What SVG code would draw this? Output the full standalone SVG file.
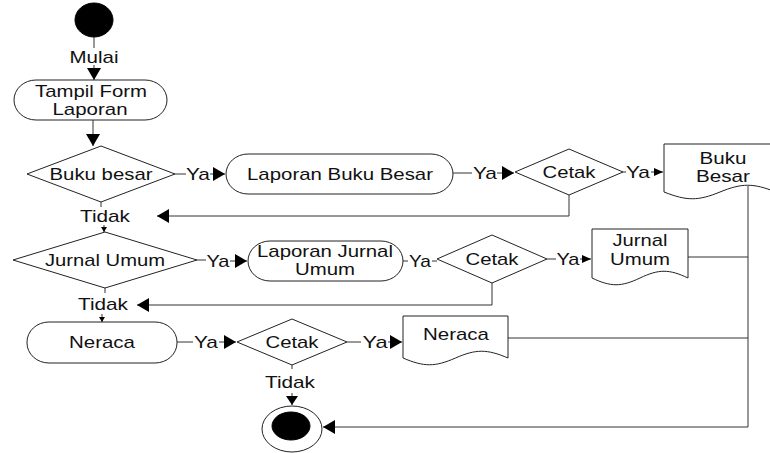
<svg xmlns="http://www.w3.org/2000/svg" width="770" height="453" viewBox="0 0 770 453">
<style>
text{font-family:"Liberation Sans",Arial,sans-serif;font-size:17px;fill:#111;text-anchor:middle}
.n{fill:#fff;stroke:#222;stroke-width:1}
.c path{fill:none;stroke:#333;stroke-width:1}
.solid{fill:#000;stroke:#000}
</style>
<defs>
<marker id="a" markerUnits="userSpaceOnUse" markerWidth="13" markerHeight="14" refX="12" refY="7" orient="auto"><path d="M0,0 L12,7 L0,14 z" fill="#000"/></marker>
<marker id="m" markerUnits="userSpaceOnUse" markerWidth="10" markerHeight="12" refX="9" refY="6" orient="auto"><path d="M0,0 L9,6 L0,12 z" fill="#000"/></marker>
<marker id="s" markerUnits="userSpaceOnUse" markerWidth="10" markerHeight="8" refX="9" refY="4" orient="auto"><path d="M0,0 L9,4 L0,8 z" fill="#000"/></marker>
<marker id="t" markerUnits="userSpaceOnUse" markerWidth="6" markerHeight="6" refX="5" refY="3" orient="auto"><path d="M0,0 L5,3 L0,6 z" fill="#000"/></marker>
</defs>
<g id="connectors" class="c">
<path d="M94,37 V48"/>
<path d="M94,65 V80" marker-end="url(#a)"/>
<path d="M93,120 V146" marker-end="url(#a)"/>
<path d="M175,174 H186"/>
<path d="M210,174 H225" marker-end="url(#a)"/>
<path d="M453,173 H472"/>
<path d="M497,173 H514" marker-end="url(#a)"/>
<path d="M623,172 H626"/>
<path d="M651,172 H663" marker-end="url(#s)"/>
<path d="M569,195 V216 H157" marker-end="url(#a)"/>
<path d="M101,202 V207"/>
<path d="M104,225 V232" marker-end="url(#t)"/>
<path d="M197,260 H206"/>
<path d="M230,261 H247" marker-end="url(#a)"/>
<path d="M403,261 H408"/>
<path d="M432,261 H437"/>
<path d="M547,259 H556"/>
<path d="M580,259 H591" marker-end="url(#s)"/>
<path d="M492,283 V305 H137" marker-end="url(#a)"/>
<path d="M105,288 V293"/>
<path d="M102,314 V322" marker-end="url(#t)"/>
<path d="M177,342 H193"/>
<path d="M219,342 H236" marker-end="url(#a)"/>
<path d="M347,342 H361"/>
<path d="M388,342 H402" marker-end="url(#a)"/>
<path d="M292,365 V369"/>
<path d="M292,393 V405" marker-end="url(#m)"/>
<path d="M688,257 H748"/>
<path d="M508,338 H748" stroke-width="1.4"/>
<path d="M748,186 V427 H323" marker-end="url(#a)"/>
</g>
<g id="labels">
<text x="94" y="63" textLength="49" lengthAdjust="spacingAndGlyphs">Mulai</text>
<text x="198" y="180" textLength="24" lengthAdjust="spacingAndGlyphs">Ya</text>
<text x="485" y="179" textLength="24" lengthAdjust="spacingAndGlyphs">Ya</text>
<text x="638" y="178" textLength="24" lengthAdjust="spacingAndGlyphs">Ya</text>
<text x="105" y="222" textLength="50" lengthAdjust="spacingAndGlyphs">Tidak</text>
<text x="218" y="267" textLength="23" lengthAdjust="spacingAndGlyphs">Ya</text>
<text x="420" y="267" textLength="22" lengthAdjust="spacingAndGlyphs">Ya</text>
<text x="568" y="265" textLength="23" lengthAdjust="spacingAndGlyphs">Ya</text>
<text x="103" y="310" textLength="50" lengthAdjust="spacingAndGlyphs">Tidak</text>
<text x="206" y="348" textLength="24" lengthAdjust="spacingAndGlyphs">Ya</text>
<text x="375" y="348" textLength="25" lengthAdjust="spacingAndGlyphs">Ya</text>
<text x="290" y="388" textLength="50" lengthAdjust="spacingAndGlyphs">Tidak</text>
</g>
<g id="start"><ellipse cx="94" cy="20" rx="19" ry="17" class="solid"/></g>
<g id="tampil-form">
<rect x="14" y="80" width="153" height="40" rx="22" ry="20" class="n"/>
<text x="91" y="97" textLength="112" lengthAdjust="spacingAndGlyphs">Tampil Form</text>
<text x="90" y="115" textLength="75" lengthAdjust="spacingAndGlyphs">Laporan</text>
</g>
<g id="buku-besar-decision">
<polygon points="27,174 101,146 175,174 101,202" class="n"/>
<text x="101" y="180" textLength="103" lengthAdjust="spacingAndGlyphs">Buku besar</text>
</g>
<g id="laporan-buku-besar">
<rect x="226" y="154" width="227" height="40" rx="22" ry="20" class="n"/>
<text x="340" y="180" textLength="186" lengthAdjust="spacingAndGlyphs">Laporan Buku Besar</text>
</g>
<g id="cetak-1">
<polygon points="515,172 569,149 623,172 569,195" class="n"/>
<text x="569" y="178" textLength="53" lengthAdjust="spacingAndGlyphs">Cetak</text>
</g>
<g id="doc-buku-besar">
<path d="M664,144 H776 V192 C753,183 742,183 720,192 C698,201 687,201 664,192 Z" class="n"/>
<text x="723" y="164" textLength="47" lengthAdjust="spacingAndGlyphs">Buku</text>
<text x="723" y="182" textLength="54" lengthAdjust="spacingAndGlyphs">Besar</text>
</g>
<g id="jurnal-umum-decision">
<polygon points="13,260 105,232 197,260 105,288" class="n"/>
<text x="105" y="266" textLength="120" lengthAdjust="spacingAndGlyphs">Jurnal Umum</text>
</g>
<g id="laporan-jurnal-umum">
<rect x="248" y="241" width="155" height="40" rx="22" ry="20" class="n"/>
<text x="325" y="257" textLength="136" lengthAdjust="spacingAndGlyphs">Laporan Jurnal</text>
<text x="325" y="275" textLength="60" lengthAdjust="spacingAndGlyphs">Umum</text>
</g>
<g id="cetak-2">
<polygon points="437,259 492,235 547,259 492,283" class="n"/>
<text x="492" y="265" textLength="53" lengthAdjust="spacingAndGlyphs">Cetak</text>
</g>
<g id="doc-jurnal-umum">
<path d="M592,229 H688 V278 C669,269 659,269 640,278 C621,287 611,287 592,278 Z" class="n"/>
<text x="640" y="246" textLength="55" lengthAdjust="spacingAndGlyphs">Jurnal</text>
<text x="640" y="265" textLength="60" lengthAdjust="spacingAndGlyphs">Umum</text>
</g>
<g id="neraca">
<rect x="27" y="322" width="150" height="41" rx="22" ry="20" class="n"/>
<text x="102" y="348" textLength="66" lengthAdjust="spacingAndGlyphs">Neraca</text>
</g>
<g id="cetak-3">
<polygon points="237,342 292,319 347,342 292,365" class="n"/>
<text x="292" y="348" textLength="53" lengthAdjust="spacingAndGlyphs">Cetak</text>
</g>
<g id="doc-neraca">
<path d="M403,316 H508 V358 C487,349 476,349 455.5,358 C435,367 424,367 403,358 Z" class="n"/>
<text x="456" y="340" textLength="66" lengthAdjust="spacingAndGlyphs">Neraca</text>
</g>
<g id="end">
<ellipse cx="292" cy="429" rx="30" ry="23" class="n"/>
<ellipse cx="291" cy="426" rx="19" ry="14" class="solid"/>
</g>
</svg>
